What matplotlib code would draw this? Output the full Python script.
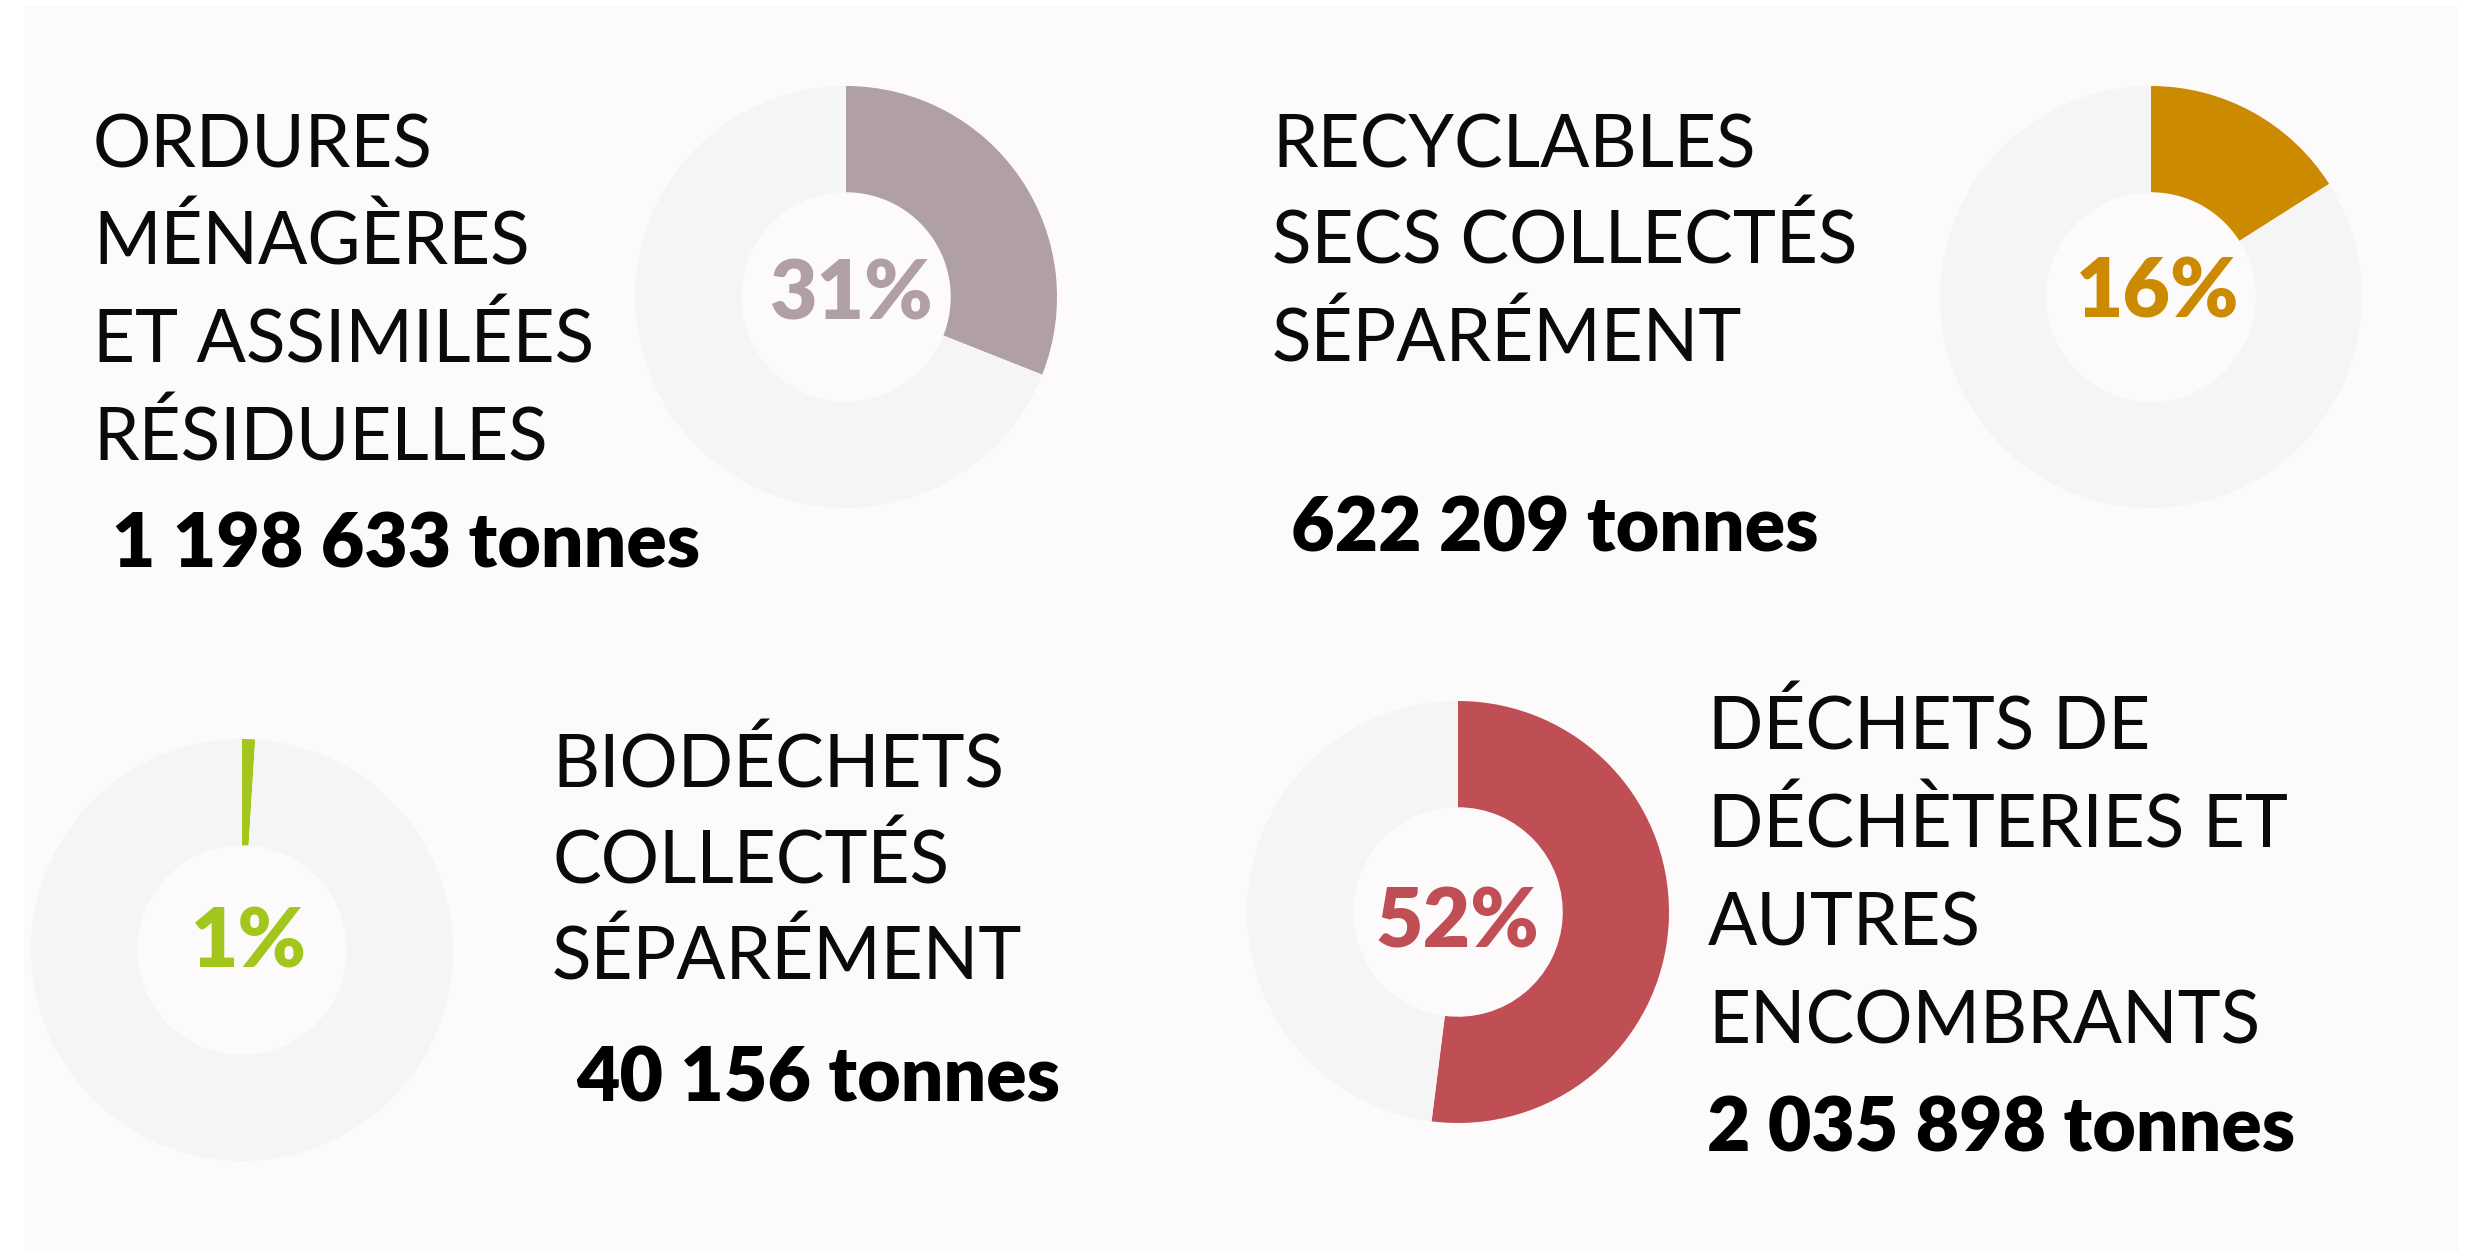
import matplotlib
matplotlib.use("Agg")
import matplotlib.pyplot as plt
from matplotlib.patches import Rectangle

# ---------------- data ----------------
category_lines = [
    ["ORDURES", "MÉNAGÈRES", "ET ASSIMILÉES", "RÉSIDUELLES"],
    ["RECYCLABLES", "SECS COLLECTÉS", "SÉPARÉMENT"],
    ["BIODÉCHETS", "COLLECTÉS", "SÉPARÉMENT"],
    ["DÉCHETS DE", "DÉCHÈTERIES ET", "AUTRES", "ENCOMBRANTS"],
]
percentages = [31, 16, 1, 52]
pct_labels = ["31%", "16%", "1%", "52%"]
tonnage_labels = ["1 198 633 tonnes", "622 209 tonnes", "40 156 tonnes", "2 035 898 tonnes"]
colors = ["#B09FA3", "#CC8A00", "#A2C61C", "#C04E55"]
track_color = "#F4F5F4"

# ---------------- layout (pixels) ----------------
W, H, DPI = 2474, 1252, 100
donut_centers = [(846, 297), (2151, 297), (242, 950), (1458, 912)]
R_OUT = 211
HOLE = 104.5 / 210.5
pct_pos = [(851, 319), (2158, 318), (249, 967), (1457, 948)]
label_pos = [(93, 167), (1272, 167), (552, 788), (1708, 750)]
line_pitch = [97.7, 97.0, 95.5, 98.0]
tonnage_pos = [(112, 568), (1291, 551), (576, 1101), (1707, 1152)]

FONT = ["Lato", "DejaVu Sans"]

fig = plt.figure(figsize=(W / DPI, H / DPI), dpi=DPI, facecolor="white")
bg = fig.add_axes([0, 0, 1, 1])
bg.set_xlim(0, W)
bg.set_ylim(H, 0)
bg.axis("off")
bg.add_patch(Rectangle((24, 6), 2459 - 24, H - 6, facecolor="#FDFAFB", edgecolor="none", zorder=0))

for i, (cx, cy) in enumerate(donut_centers):
    pax = fig.add_axes([(cx - R_OUT) / W, (H - cy - R_OUT) / H, 2 * R_OUT / W, 2 * R_OUT / H])
    pax.pie([percentages[i], 100 - percentages[i]], colors=[colors[i], track_color],
            startangle=90, counterclock=False, radius=1,
            wedgeprops=dict(width=1 - HOLE, linewidth=0))
    pax.set_xlim(-1, 1)
    pax.set_ylim(-1, 1)
    pax.set_facecolor("none")
    pax.patch.set_alpha(0)

for i in range(4):
    px, py = pct_pos[i]
    bg.text(px, py, pct_labels[i], ha="center", va="baseline", fontsize=59,
            fontweight="heavy", color=colors[i], family=FONT, zorder=5)
    lx, ly = label_pos[i]
    for k, line in enumerate(category_lines[i]):
        bg.text(lx, ly + k * line_pitch[i], line, ha="left", va="baseline",
                fontsize=52.5, fontweight="normal", color="#0A0A0A", family=FONT)
    tx, ty = tonnage_pos[i]
    bg.text(tx, ty, tonnage_labels[i], ha="left", va="baseline", fontsize=54,
            fontweight="heavy", color="#000000", family=FONT)

fig.savefig("out.png", dpi=DPI, facecolor="white")
